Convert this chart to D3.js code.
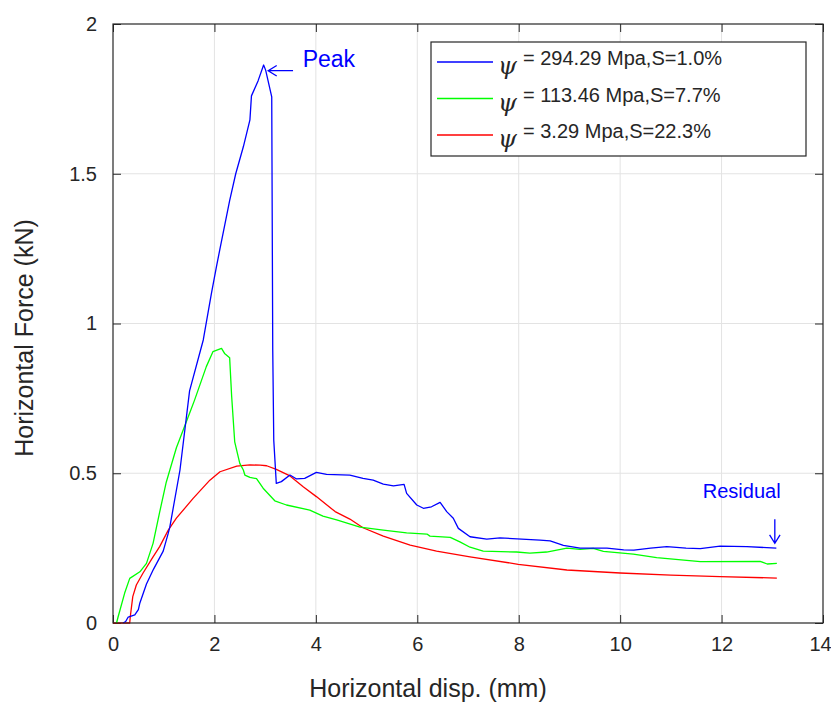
<!DOCTYPE html>
<html>
<head>
<meta charset="utf-8">
<script src="https://cdn.jsdelivr.net/npm/d3@7"></script>
<style>
  body { margin: 0; background: #fff; }
  svg { display: block; }
  .tick-label { font-family: Arial, "Liberation Sans", Helvetica, sans-serif; font-size: 20px; fill: #262626; }
</style>
</head>
<body>
<svg width="831" height="704"></svg>
<script>
// datos (desplazamiento en mm, fuerza en kN)
var blueX = [0.20,0.25,0.30,0.43,0.50,0.53,0.66,0.80,0.99,1.09,1.12,1.32,1.51,1.78,1.94,2.04,2.11,2.30,2.42,2.57,2.70,2.73,2.86,2.97,3.01,3.13,3.15,3.17,3.22,3.32,3.49,3.62,3.78,4.01,4.21,4.67,4.93,5.13,5.33,5.53,5.74,5.79,5.99,6.12,6.28,6.45,6.58,6.71,6.81,7.04,7.37,7.63,8.42,8.62,8.88,9.21,9.74,10.07,10.27,10.60,10.92,11.30,11.58,11.97,12.50,13.08];
var blueF = [0.000,0.005,0.020,0.027,0.045,0.067,0.130,0.180,0.240,0.300,0.320,0.510,0.775,0.945,1.100,1.190,1.250,1.410,1.500,1.590,1.680,1.760,1.810,1.863,1.846,1.757,0.910,0.610,0.466,0.472,0.494,0.481,0.483,0.503,0.496,0.494,0.483,0.477,0.464,0.458,0.463,0.433,0.394,0.383,0.388,0.403,0.372,0.350,0.316,0.288,0.280,0.284,0.277,0.274,0.259,0.250,0.250,0.244,0.243,0.250,0.255,0.250,0.248,0.257,0.255,0.250];

var greenX = [0.07,0.10,0.23,0.33,0.53,0.66,0.79,0.92,1.05,1.25,1.51,1.61,1.84,1.97,2.14,2.20,2.30,2.34,2.40,2.50,2.57,2.60,2.70,2.83,2.96,3.19,3.42,3.88,4.14,4.41,4.87,5.33,5.79,6.19,6.25,6.65,6.84,7.04,7.30,7.96,8.22,8.55,8.95,9.21,9.47,9.67,10.26,10.72,11.58,12.76,12.90,13.09];
var greenF = [0.000,0.020,0.100,0.149,0.171,0.199,0.266,0.370,0.470,0.585,0.700,0.745,0.856,0.906,0.917,0.900,0.886,0.756,0.605,0.533,0.511,0.494,0.486,0.482,0.450,0.408,0.394,0.377,0.357,0.344,0.320,0.310,0.301,0.297,0.290,0.286,0.271,0.253,0.240,0.237,0.233,0.237,0.250,0.246,0.249,0.239,0.230,0.218,0.205,0.206,0.197,0.199];

var redX = [0.00,0.33,0.34,0.39,0.46,0.59,0.79,0.92,1.09,1.25,1.58,1.91,2.11,2.44,2.70,2.90,3.03,3.22,3.49,3.75,4.01,4.38,4.67,4.93,5.33,5.86,6.38,7.04,7.99,8.95,10.00,11.00,11.97,13.09];
var redF = [0.000,0.000,0.020,0.088,0.127,0.166,0.221,0.255,0.310,0.350,0.416,0.477,0.505,0.524,0.528,0.527,0.525,0.513,0.491,0.455,0.422,0.372,0.347,0.318,0.290,0.260,0.240,0.221,0.196,0.177,0.167,0.160,0.155,0.150];

var xTicks = [0,2,4,6,8,10,12,14];
var yTicks = [0,0.5,1,1.5,2];
var nombres = ["= 294.29 Mpa,S=1.0%", "= 113.46 Mpa,S=7.7%", "= 3.29 Mpa,S=22.3%"];
var colores = ["#0000ff", "#00ff00", "#ff0000"];

var fuente = "Arial, 'Liberation Sans', Helvetica, sans-serif";
var gris = "#262626";

var svg = d3.select("svg"),
    margin = {top: 24, right: 8, bottom: 81, left: 113},
    width = svg.attr("width") - margin.left - margin.right,
    height = svg.attr("height") - margin.top - margin.bottom,
    g = svg.append("g").attr("transform", "translate(" + margin.left + "," + margin.top + ")");

var x = d3.scaleLinear().domain([0, 14]).range([0, width]),
    y = d3.scaleLinear().domain([0, 2]).range([height, 0]);

// rejilla
g.append("g")
    .selectAll("line")
    .data(xTicks.slice(1, -1))
    .enter().append("line")
    .attr("x1", function(d) { return x(d); })
    .attr("x2", function(d) { return x(d); })
    .attr("y1", 0).attr("y2", height)
    .attr("stroke", "#e3e3e3").attr("stroke-width", 1);
g.append("g")
    .selectAll("line")
    .data(yTicks.slice(1, -1))
    .enter().append("line")
    .attr("y1", function(d) { return y(d); })
    .attr("y2", function(d) { return y(d); })
    .attr("x1", 0).attr("x2", width)
    .attr("stroke", "#e3e3e3").attr("stroke-width", 1);

// ejes con ticks hacia dentro (estilo matlab)
function ejes(sel, eje) {
  sel.call(eje);
  sel.select(".domain").remove();
  sel.selectAll(".tick line").attr("stroke", gris);
  sel.selectAll(".tick text").attr("class", "tick-label").attr("fill", gris);
}

var ejeX = g.append("g")
    .attr("transform", "translate(0," + height + ")")
    .call(ejes, d3.axisBottom(x).tickValues(xTicks).tickSizeInner(-8).tickSizeOuter(0).tickPadding(14).tickFormat(d3.format("d")));
// el 14 no cabe centrado
ejeX.selectAll(".tick text").filter(function(d) { return d === 14; }).attr("dx", "-3");
g.append("g")
    .call(ejes, d3.axisTop(x).tickValues(xTicks).tickSizeInner(-8).tickSizeOuter(0).tickFormat(""));
g.append("g")
    .call(ejes, d3.axisLeft(y).tickValues(yTicks).tickSizeInner(-8).tickSizeOuter(0).tickPadding(16).tickFormat(function(d) { return d; }));
g.append("g")
    .attr("transform", "translate(" + width + ",0)")
    .call(ejes, d3.axisRight(y).tickValues(yTicks).tickSizeInner(-8).tickSizeOuter(0).tickFormat(""));

// curvas
var line = d3.line()
    .x(function(d) { return x(d[0]); })
    .y(function(d) { return y(d[1]); });

function dibujar_curva(xs, fs, color) {
  var puntos = xs.map(function(v, i) { return [v, fs[i]]; });
  g.append("path")
    .datum(puntos)
    .attr("fill", "none")
    .attr("stroke", color)
    .attr("stroke-width", 1.3)
    .attr("stroke-linejoin", "round")
    .attr("d", line);
}
dibujar_curva(redX, redF, colores[2]);
dibujar_curva(greenX, greenF, colores[1]);
dibujar_curva(blueX, blueF, colores[0]);

// caja
g.append("rect")
    .attr("width", width).attr("height", height)
    .attr("fill", "none").attr("stroke", gris).attr("stroke-width", 1.2);

// anotaciones
function flecha(x1, y1, x2, y2) {
  var ang = Math.atan2(y(y2) - y(y1), x(x2) - x(x1));
  var hx = x(x2), hy = y(y2), L = 10, a = 0.55;
  g.append("path")
    .attr("d", "M" + x(x1) + "," + y(y1) + "L" + hx + "," + hy +
      "M" + (hx - L * Math.cos(ang - a)) + "," + (hy - L * Math.sin(ang - a)) +
      "L" + hx + "," + hy +
      "L" + (hx - L * Math.cos(ang + a)) + "," + (hy - L * Math.sin(ang + a)))
    .attr("fill", "none").attr("stroke", "#0000ff").attr("stroke-width", 1.3);
}
flecha(3.55, 1.844, 3.06, 1.844);
flecha(13.05, 0.346, 13.05, 0.266);

g.append("text")
    .attr("x", x(3.74)).attr("y", y(1.855))
    .style("font", "23px " + fuente).attr("fill", "#0000ff")
    .text("Peak");
g.append("text")
    .attr("x", x(11.63)).attr("y", y(0.418))
    .style("font", "20px " + fuente).attr("fill", "#0000ff")
    .text("Residual");

// etiquetas de los ejes
svg.append("text")
    .attr("x", 428).attr("y", 697)
    .attr("text-anchor", "middle")
    .style("font", "25px " + fuente).attr("fill", gris)
    .text("Horizontal disp. (mm)");
svg.append("text")
    .attr("transform", "translate(33,338) rotate(-90)")
    .attr("text-anchor", "middle")
    .style("font", "25px " + fuente).attr("fill", gris)
    .text("Horizontal Force (kN)");

// leyenda
var leyenda = svg.append("g").attr("transform", "translate(431,42)");
leyenda.append("rect")
    .attr("width", 375).attr("height", 114)
    .attr("fill", "#fff").attr("stroke", gris).attr("stroke-width", 1.2);
var filas = leyenda.selectAll(".fila")
    .data(nombres)
    .enter().append("g")
    .attr("class", "fila")
    .attr("transform", function(d, i) { return "translate(0," + (20 + i * 36.5) + ")"; });
filas.append("line")
    .attr("x1", 6).attr("x2", 62)
    .attr("stroke", function(d, i) { return colores[i]; })
    .attr("stroke-width", 1.3);
filas.append("text")
    .attr("x", 67).attr("y", 12)
    .style("font-family", "'DejaVu Serif', serif")
    .style("font-style", "italic")
    .style("font-size", "24px")
    .attr("fill", gris)
    .text("\u03c8");
filas.append("text")
    .attr("x", 92).attr("y", 3)
    .style("font", "20px " + fuente).attr("fill", gris)
    .text(function(d) { return d; });
</script>
</body>
</html>
